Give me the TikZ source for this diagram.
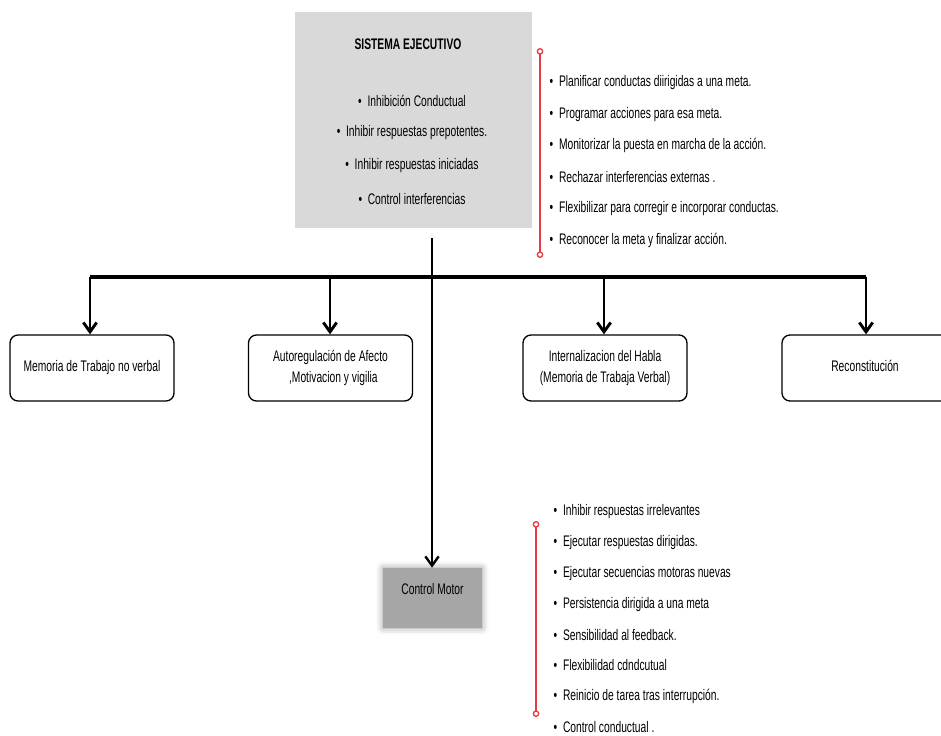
\documentclass[tikz,border=0pt]{standalone}
\usepackage{fontspec}
\setmainfont{Liberation Sans}[FakeStretch=0.67]
\usetikzlibrary{arrows.meta,shadows.blur}

\definecolor{grisclaro}{RGB}{217,217,217}
\definecolor{grisoscuro}{RGB}{166,166,166}
\definecolor{rojo}{RGB}{232,58,64}

\begin{document}
\begin{tikzpicture}[x=0.75pt,y=-0.75pt,
    every node/.style={font=\fontsize{11.5}{13}\selectfont},
    caja/.style={draw,line width=1pt,rounded corners=6pt,fill=white,
        minimum width=123pt,minimum height=49.5pt,align=center},
    flecha/.style={-{Straight Barb[length=7pt,width=10pt]},line width=2.2pt},
    llave/.style={rojo,line width=1pt,
        {Circle[open,length=5pt,fill=white]}-{Circle[open,length=5pt,fill=white]}},
    punto/.style={anchor=west}]

    \useasboundingbox (0,0) rectangle (941,735);

    % sistema ejecutivo
    \node[fill=grisclaro,minimum width=177.75pt,minimum height=162pt] (ejec) at (413.5,120) {};
    \node[font=\fontsize{11.5}{13}\selectfont\bfseries] (titulo) at (408,44) {SISTEMA EJECUTIVO};
    \node (e1) at (412,101) {• \ Inhibición Conductual};
    \node (e2) at (412,133) {• \ Inhibir respuestas prepotentes.};
    \node (e3) at (412,166) {• \ Inhibir respuestas iniciadas};
    \node (e4) at (412,199) {• \ Control interferencias};

    % funciones del sistema ejecutivo
    \coordinate (r1) at (540,48);
    \coordinate (r2) at (540,258);
    \draw[llave] (r1) -- (r2);
    \foreach \txt [count=\i] in {Planificar conductas diirigidas a una meta.,
        Programar acciones para esa meta.,
        Monitorizar la puesta en marcha de la acción.,
        Rechazar interferencias externas .,
        Flexibilizar para corregir e incorporar conductas.,
        Reconocer la meta y finalizar acción.}
        \node[punto] (f\i) at (545,{83+31.4*(\i-1)}) {• \ \txt};

    % las cuatro funciones
    \node[caja] (m1) at (92,368) {Memoria de Trabajo no verbal};
    \node[caja] (m2) at (330.5,368) {Autoregulación de Afecto\\[3pt]\ \ ,Motivacion y vigilia};
    \node[caja] (m3) at (605,368) {Internalizacion del Habla\\[3pt](Memoria de Trabaja Verbal)};
    \node[caja,minimum width=135pt] (m4) at (872,368) {};
    \node (m4t) at (865,366) {Reconstitución};

    \coordinate (b1) at (90,277);
    \coordinate (b2) at (330,277);
    \coordinate (b3) at (604,277);
    \coordinate (b4) at (866,277);
    \draw[line width=3pt] (b1) -- (b4);
    \draw[flecha] (b1) -- (b1 |- m1.north);
    \draw[flecha] (b2) -- (b2 |- m2.north);
    \draw[flecha] (b3) -- (b3 |- m3.north);
    \draw[flecha] (b4) -- (b4 |- m4.north);

    % control motor
    \node[fill=grisoscuro,minimum width=74.25pt,minimum height=45pt,text depth=13pt,
        blur shadow={shadow xshift=0pt,shadow yshift=0pt,shadow blur radius=5pt}] (motor) at (432.5,598) {Control Motor};
    \coordinate (c0) at (432,238);
    \draw[flecha,line width=1.8pt] (c0) -- (c0 |- motor.north);

    % funciones del control motor
    \coordinate (s1) at (536,521);
    \coordinate (s2) at (536,717);
    \draw[llave] (s1) -- (s2);
    \foreach \txt [count=\i] in {Inhibir respuestas irrelevantes,
        Ejecutar respuestas dirigidas.,
        Ejecutar secuencias motoras nuevas,
        Persistencia dirigida a una meta,
        Sensibilidad al feedback.,
        Flexibilidad cdndcutual,
        Reinicio de tarea tras interrupción.,
        Control conductual .}
        \node[punto] (g\i) at (549,{512+30.7*(\i-1)}) {• \ \txt};

\end{tikzpicture}
\end{document}
